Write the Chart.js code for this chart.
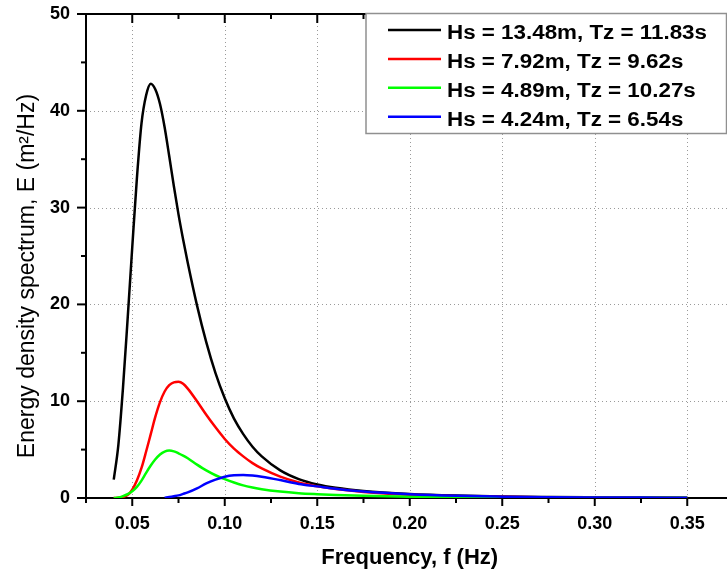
<!DOCTYPE html>
<html><head><meta charset="utf-8">
<script src="https://cdn.jsdelivr.net/npm/chart.js@4/dist/chart.umd.min.js"></script>
<style>html,body{margin:0;padding:0;background:#fff;overflow:hidden;}#wrap{width:740px;height:576px;}</style>
</head><body><div id="wrap"><canvas id="c" width="740" height="576"></canvas></div>
<script>
// ---- data ----
const freq = [0.040,0.0425,0.045,0.0475,0.050,0.0525,0.055,0.0575,0.060,0.0625,0.065,0.0675,0.070,0.0725,0.075,0.0775,0.080,0.085,0.090,0.095,0.100,0.105,0.110,0.115,0.120,0.130,0.140,0.150,0.160,0.175,0.200,0.225,0.250,0.275,0.300,0.325,0.350];
const hs1348 = [1.9,5.5,11.4,18.5,25.9,33.0,38.7,41.6,42.8,42.2,40.7,38.3,35.3,32.2,29.3,26.7,24.3,19.9,16.1,12.9,10.3,8.2,6.6,5.3,4.3,2.85,1.95,1.4,1.05,0.72,0.42,0.25,0.15,0.10,0.07,0.05,0.03];
const hs792  = [0,0.02,0.1,0.3,0.85,1.8,3.1,4.8,6.6,8.4,9.9,11.0,11.65,11.95,12.0,11.8,11.3,10.0,8.6,7.3,6.1,5.1,4.3,3.6,3.05,2.2,1.6,1.2,0.92,0.62,0.33,0.19,0.12,0.08,0.05,0.035,0.025];
const hs489  = [0,0.05,0.2,0.4,0.7,1.15,1.8,2.6,3.35,4.0,4.5,4.8,4.9,4.82,4.62,4.38,4.1,3.45,2.85,2.35,1.95,1.6,1.3,1.08,0.9,0.66,0.5,0.4,0.32,0.23,0.13,0.09,0.06,0.04,0.03,0.02,0.015];
const hs424  = [null,null,null,null,null,null,null,null,null,null,null,0.03,0.1,0.18,0.27,0.42,0.58,1.0,1.5,1.9,2.2,2.35,2.38,2.32,2.2,1.85,1.45,1.2,0.95,0.66,0.38,0.22,0.14,0.09,0.06,0.045,0.03];
const seriesLabels = ['Hs = 13.48m, Tz = 11.83s','Hs = 7.92m, Tz = 9.62s','Hs = 4.89m, Tz = 10.27s','Hs = 4.24m, Tz = 6.54s'];
const seriesValues = [hs1348, hs792, hs489, hs424];
const seriesColors = ['#000000','#ff0000','#00ff00','#0000ff'];
const xTicksMajor = [0.05,0.10,0.15,0.20,0.25,0.30,0.35];
const yTicksMajor = [0,10,20,30,40,50];

const FONT = "'Liberation Sans', Arial, Helvetica, sans-serif";
const rnd = v => Math.round(v*1000)/1000;
const isMajorX = v => xTicksMajor.some(m=>Math.abs(m-rnd(v))<1e-6);
const isMajorY = v => yTicksMajor.includes(Math.round(v));

const datasets = seriesValues.map((vals,i)=>({
  label: seriesLabels[i],
  data: freq.map((f,j)=>({x:f,y:vals[j]})).filter(p=>p.y!==null),
  borderColor: seriesColors[i],
  backgroundColor: seriesColors[i],
  borderWidth: 2.5,
  pointRadius: 0,
  fill: false,
  cubicInterpolationMode: 'monotone',
  order: seriesValues.length-1-i
}));

const framePlugin = {
  id:'frame',
  beforeDatasetsDraw(chart){
    const {ctx, chartArea:a, scales:{x,y}} = chart;
    ctx.save();
    // dotted grid at major ticks
    ctx.strokeStyle='#9a9a9a';
    ctx.lineWidth=1;
    ctx.setLineDash([1,3]);
    x.ticks.forEach(t=>{
      if(!isMajorX(t.value)) return;
      const px=Math.round(x.getPixelForValue(t.value))+0.5;
      ctx.beginPath();ctx.moveTo(px,a.top);ctx.lineTo(px,a.bottom);ctx.stroke();
    });
    y.ticks.forEach(t=>{
      if(!isMajorY(t.value) || t.value<=0 || t.value>=50) return;
      const py=Math.round(y.getPixelForValue(t.value))+0.5;
      ctx.beginPath();ctx.moveTo(a.left,py);ctx.lineTo(a.right,py);ctx.stroke();
    });
    ctx.setLineDash([]);
    ctx.strokeStyle='#000';
    ctx.lineWidth=2;
    const seg=(x1,y1,x2,y2)=>{ctx.beginPath();ctx.moveTo(x1,y1);ctx.lineTo(x2,y2);ctx.stroke();};
    x.ticks.forEach(t=>{
      const px=x.getPixelForValue(t.value);
      const L=isMajorX(t.value)?8:5;
      const Lt=isMajorX(t.value)?9:5;
      seg(px,a.bottom,px,a.bottom+L);
      seg(px,a.top,px,a.top+Lt);
    });
    y.ticks.forEach(t=>{
      const py=y.getPixelForValue(t.value);
      const L=isMajorY(t.value)?9:5;
      seg(a.left-L,py,a.left,py);
    });
    seg(a.left,a.top-1,a.left,a.bottom+1);
    seg(a.left-1,a.top,a.right+1,a.top);
    seg(a.left-1,a.bottom,a.right+1,a.bottom);
    ctx.restore();
  },
  afterDraw(chart){
    const {ctx} = chart;
    ctx.save();
    // y-axis title
    ctx.fillStyle='#000';
    ctx.font='23px '+FONT;
    ctx.textAlign='center';
    ctx.textBaseline='alphabetic';
    ctx.translate(33.5,276);
    ctx.rotate(-Math.PI/2);
    ctx.fillText('Energy density spectrum, E (m\u00B2/Hz)',0,0);
    ctx.restore();
    // legend
    ctx.save();
    const bx=366, by=13.5, bw=360.5, bh=120;
    ctx.fillStyle='#fff';
    ctx.fillRect(bx,by,bw,bh);
    ctx.strokeStyle='#909090';
    ctx.lineWidth=1.5;
    ctx.strokeRect(bx,by,bw,bh);
    ctx.font='bold 20px '+FONT;
    const sx = 260/ctx.measureText(seriesLabels[0]).width;
    seriesLabels.forEach((lab,i)=>{
      const ly=30+i*28.9;
      ctx.strokeStyle=seriesColors[i];
      ctx.lineWidth=2.5;
      ctx.beginPath();ctx.moveTo(388,ly);ctx.lineTo(441,ly);ctx.stroke();
      ctx.save();
      ctx.fillStyle='#000';
      ctx.textAlign='left';
      ctx.textBaseline='alphabetic';
      ctx.translate(447,ly+9);
      ctx.scale(sx,1);
      ctx.fillText(lab,0,0);
      ctx.restore();
    });
    ctx.restore();
  }
};

new Chart(document.getElementById('c'),{
  type:'line',
  data:{datasets},
  options:{
    responsive:false,
    animation:false,
    events:[],
    layout:{padding:{left:0,top:14,right:6.5,bottom:0}},
    plugins:{legend:{display:false},tooltip:{enabled:false}},
    scales:{
      x:{
        type:'linear', min:0.025, max:0.375,
        afterFit(s){s.height=78; s.paddingLeft=0; s.paddingRight=0;},
        ticks:{stepSize:0.025, autoSkip:false, maxRotation:0, padding:15, color:'#000',
          font:{family:FONT,size:18,weight:'bold'},
          callback:(v)=> isMajorX(v)? rnd(v).toFixed(2):''},
        grid:{display:false, drawTicks:false},
        border:{display:false},
        title:{display:true,text:'Frequency, f (Hz)',color:'#000',font:{family:FONT,size:22,weight:'bold'},padding:{top:0,bottom:5}}
      },
      y:{
        min:0, max:50,
        afterFit(s){s.width=86; s.paddingTop=0; s.paddingBottom=0;},
        ticks:{stepSize:5, autoSkip:false, padding:16, color:'#000',
          font:{family:FONT,size:18,weight:'bold'},
          callback:(v)=> isMajorY(v)? String(v):''},
        grid:{display:false, drawTicks:false},
        border:{display:false}
      }
    }
  },
  plugins:[framePlugin]
});
</script>
</body></html>
